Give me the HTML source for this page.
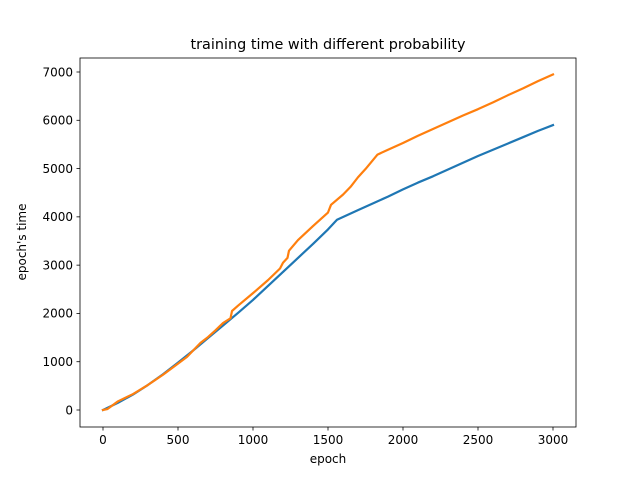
<!DOCTYPE html>
<html><head><meta charset="utf-8"><style>
html,body{margin:0;padding:0;background:#fff;}
svg{display:block;font-family:"DejaVu Sans","Liberation Sans",sans-serif;}
</style></head><body>
<svg id="chart" width="640" height="480"></svg>
<script>
const xTicks=[0,500,1000,1500,2000,2500,3000];
const yTicks=[0,1000,2000,3000,4000,5000,6000,7000];
const blueEpochs=[0,100,200,300,400,500,600,700,800,900,1000,1100,1200,1300,1400,1500,1560,1700,1800,1900,2000,2100,2200,2300,2400,2500,2600,2700,2800,2900,3000];
const blueValues=[0,150,320,520,740,980,1230,1490,1750,2010,2280,2570,2860,3150,3440,3740,3940,4140,4280,4420,4570,4710,4840,4980,5120,5260,5390,5520,5650,5780,5900];
const orangeEpochs=[0,30,100,200,300,400,500,560,600,650,700,750,800,850,860,900,1000,1100,1180,1200,1230,1240,1300,1400,1500,1520,1600,1650,1700,1750,1830,1900,2000,2100,2200,2300,2400,2500,2600,2700,2800,2900,3000];
const orangeValues=[0,20,180,330,520,730,960,1100,1230,1390,1510,1650,1800,1900,2050,2160,2420,2690,2930,3050,3150,3300,3520,3810,4090,4250,4460,4620,4820,4990,5290,5390,5530,5680,5820,5960,6100,6230,6370,6520,6660,6810,6950];

const NS="http://www.w3.org/2000/svg";
const svg=document.getElementById('chart');
const L=80,R=576,T=58,B=427;
const sx=v=>103+v*0.15;
const sy=v=>410-v*(338/7000);
function mk(tag,attrs,parent){const e=document.createElementNS(NS,tag);for(const k in attrs)e.setAttribute(k,attrs[k]);(parent||svg).appendChild(e);return e;}

const title=mk('text',{x:328,y:49,'text-anchor':'middle','font-size':14.4,fill:'#000'});


title.textContent='training time with different probability';

function line(xs,ys,color,name){
  const d=xs.map((x,i)=>(i?'L':'M')+sx(x).toFixed(2)+' '+sy(ys[i]).toFixed(2)).join(' ');
  const p=mk('path',{d:d,fill:'none',stroke:color,'stroke-width':2.2,'stroke-linejoin':'round','stroke-linecap':'square'});
  
  
}
line(blueEpochs,blueValues,'#1f77b4','series-blue');
line(orangeEpochs,orangeValues,'#ff7f0e','series-orange');

const frame=mk('rect',{x:L,y:T,width:R-L,height:B-T,fill:'none',stroke:'#000','stroke-width':0.8});



xTicks.forEach(v=>{
  const x=sx(v);
  const t=mk('line',{x1:x,x2:x,y1:B,y2:B+3.5,stroke:'#000','stroke-width':0.8});
  
  
  const l=mk('text',{x:x,y:B+17,'text-anchor':'middle','font-size':12,fill:'#000'});
  
  
  l.textContent=v;
});
yTicks.forEach(v=>{
  const y=sy(v);
  const t=mk('line',{x1:L-3.5,x2:L,y1:y,y2:y,stroke:'#000','stroke-width':0.8});
  
  
  const l=mk('text',{x:L-7,y:y+4.3,'text-anchor':'end','font-size':12,fill:'#000'});
  
  
  l.textContent=v;
});
const xl=mk('text',{x:328,y:463,'text-anchor':'middle','font-size':12,fill:'#000'});


xl.textContent='epoch';
const yl=mk('text',{x:26,y:242,'text-anchor':'middle','font-size':12,fill:'#000',transform:'rotate(-90 26 242)'});


yl.textContent="epoch's time";
</script>
</body></html>
